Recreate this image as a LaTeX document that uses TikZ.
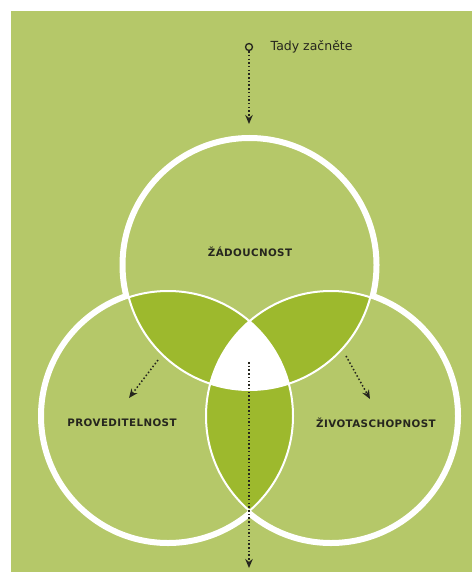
\documentclass[tikz,border=0pt]{standalone}
\usepackage{fontspec}
\setmainfont{DejaVu Sans}
\newfontfamily\labelfont[LetterSpace=4]{DejaVu Sans}
\usetikzlibrary{arrows.meta}

\definecolor{meadow}{HTML}{B5C869}
\definecolor{leaf}{HTML}{9DB92D}
\definecolor{ink}{HTML}{26261E}

\begin{document}
\begin{tikzpicture}[x=1pt,y=-1pt,
  flow/.style={ink, line width=1.5pt, dash pattern=on 1.5pt off 2.2pt,
    -{Stealth[length=9pt,width=7.5pt]}},
  ringtxt/.style={font=\labelfont\bfseries\fontsize{10.3}{12}\selectfont,
    text=ink, inner sep=0pt},
  ring/.style={white, line width=10pt},
  seam/.style={white, line width=2pt}]

  % page and green panel
  \fill[white] (0,0) rectangle (472,572);
  \fill[meadow] (10.5,11) rectangle (472,572);
  \useasboundingbox (0,0) rectangle (472,572);

  % circle centres
  \def\rr{125}
  \coordinate (cT) at (249.5,265);
  \coordinate (cL) at (168,416);
  \coordinate (cR) at (331,416);

  % thick outer rings, then clear their inner halves
  \foreach \c in {cT,cL,cR} \draw[ring] (\c) circle[radius=\rr];
  \foreach \c in {cT,cL,cR} \fill[meadow] (\c) circle[radius=\rr];

  % pairwise overlaps
  \begin{scope}
    \clip (cT) circle[radius=\rr];
    \fill[leaf] (cL) circle[radius=\rr];
    \fill[leaf] (cR) circle[radius=\rr];
  \end{scope}
  \begin{scope}
    \clip (cL) circle[radius=\rr];
    \fill[leaf] (cR) circle[radius=\rr];
  \end{scope}

  % common centre
  \begin{scope}
    \clip (cT) circle[radius=\rr];
    \clip (cL) circle[radius=\rr];
    \fill[white] (cR) circle[radius=\rr];
  \end{scope}

  % thin seams
  \foreach \c in {cT,cL,cR} \draw[seam] (\c) circle[radius=\rr];

  % labels
  \node[ringtxt] (desir) at (250,252) {ŽÁDOUCNOST};
  \node[ringtxt] (feas) at (122,423) {PROVEDITELNOST};
  \node[ringtxt] (viab) at (376,423) {ŽIVOTASCHOPNOST};

  % start marker
  \node[circle, draw=ink, line width=1.3pt, fill=meadow, inner sep=0pt,
        minimum size=7pt] (start) at (249,47) {};
  \node[anchor=west, inner sep=0pt, text=ink, font=\fontsize{12.5}{15}\selectfont]
        (starttxt) at (270.5,46.5) {Tady začněte};

  % flow arrows
  \coordinate (entry) at (249,124);
  \coordinate (lA) at (158,360);
  \coordinate (lB) at (129,398);
  \coordinate (rA) at (346,356);
  \coordinate (rB) at (370,399);
  \coordinate (mA) at (249,362);
  \coordinate (mB) at (249,568);

  \draw[flow] (start) -- (entry);
  \draw[flow] (lA) -- (lB);
  \draw[flow] (rA) -- (rB);
  \draw[flow] (mA) -- (mB);
\end{tikzpicture}
\end{document}
